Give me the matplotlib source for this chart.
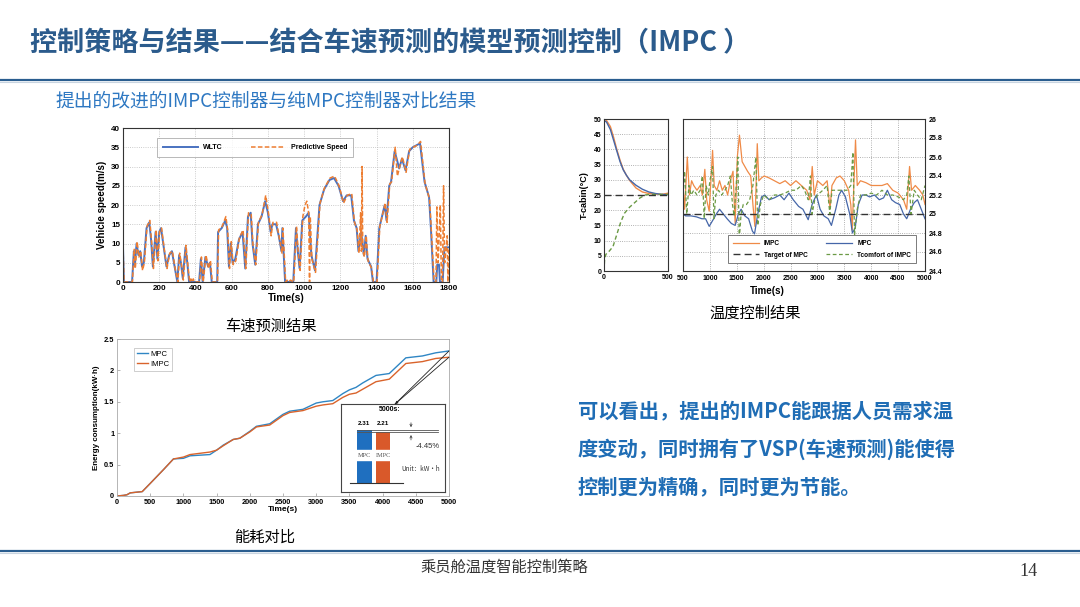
import numpy as np
import matplotlib
matplotlib.use("Agg")
import matplotlib.pyplot as plt
from matplotlib.lines import Line2D
from matplotlib.patches import ConnectionPatch, Rectangle

plt.rcParams['font.family'] = ['Liberation Sans', 'Noto Sans CJK SC', 'DejaVu Sans']
CJK = ['Noto Sans CJK SC', 'DejaVu Sans']

# ---- speed prediction (WLTC vs predictive), (t [s], v [m/s]) ----
WLTC = [(0, 9), (5, 0), (50, 0), (60, 8), (65, 4), (75, 10), (85, 7), (95, 8), (105, 4), (115, 5),
        (130, 14), (145, 15.5), (155, 11), (165, 4), (180, 13), (190, 6), (200, 13), (210, 14),
        (225, 9), (240, 4), (255, 7), (270, 8), (285, 4), (300, 0), (310, 7), (320, 5), (330, 1),
        (345, 9), (355, 5), (365, 0), (420, 0), (430, 6), (440, 0), (455, 6.5), (470, 4), (480, 5),
        (490, 0), (520, 0), (525, 13), (545, 14), (565, 16), (575, 14), (585, 4), (595, 10),
        (605, 5), (620, 6), (640, 11), (660, 13), (675, 3.5), (690, 17), (705, 18), (715, 10),
        (730, 4.5), (745, 15), (765, 17), (785, 21), (800, 18), (815, 13), (825, 15), (845, 15),
        (860, 12), (875, 8), (880, 14), (895, 0), (940, 0), (955, 14), (965, 8), (975, 3.5),
        (990, 16), (1010, 17), (1025, 18), (1040, 7), (1060, 3), (1085, 20), (1110, 24),
        (1140, 26.5), (1165, 27), (1190, 25), (1215, 21), (1235, 22.5), (1260, 22.5), (1275, 16),
        (1290, 14), (1300, 8), (1315, 13), (1330, 7), (1340, 12), (1350, 6), (1370, 4), (1380, 0),
        (1400, 0), (1415, 14), (1445, 20), (1455, 16), (1470, 25), (1480, 26), (1500, 34),
        (1525, 29.5), (1540, 32), (1560, 29), (1580, 34), (1600, 35), (1620, 35.5), (1640, 36),
        (1665, 26), (1690, 22), (1700, 14), (1715, 0), (1730, 0), (1735, 4.5), (1745, 4.5),
        (1750, 0), (1765, 0), (1775, 9), (1800, 9)]
PRED = [(0, 9), (6, 0), (52, 0), (62, 8.5), (68, 3.5), (78, 10.5), (88, 6.5), (98, 8), (108, 3),
        (118, 5), (133, 14.5), (148, 16), (158, 10.5), (168, 3.5), (183, 13.5), (193, 5.5),
        (203, 13.5), (213, 14), (228, 8.5), (243, 3.5), (258, 7.5), (273, 8), (288, 3.5), (303, 0),
        (313, 7.5), (323, 4.5), (333, 0.5), (348, 9.5), (358, 4.5), (368, 0), (375, 0.8), (380, 0),
        (388, 0.8), (395, 0), (423, 0), (433, 6.5), (443, 0), (458, 7), (473, 3.5), (483, 5.5),
        (493, 0), (522, 0), (528, 13.5), (548, 14.5), (568, 17), (578, 13.5), (588, 3.5),
        (598, 10.5), (608, 4.5), (623, 5.5), (643, 11.5), (663, 13.5), (678, 3.5), (693, 18),
        (708, 17.5), (718, 9.5), (733, 4.5), (748, 15.5), (768, 17.5), (788, 22.5), (803, 18),
        (818, 12), (828, 15.5), (848, 15.5), (863, 11.5), (878, 7.5), (883, 14), (898, 0),
        (905, 0.5), (915, 0), (925, 0.5), (943, 0), (958, 14.5), (968, 7.5), (978, 3), (993, 17),
        (1005, 20), (1015, 21), (1025, 18), (1030, 0), (1034, 17), (1043, 6), (1063, 2.5),
        (1088, 20.5), (1113, 24.5), (1143, 27), (1168, 27.5), (1193, 25), (1218, 20.5),
        (1238, 22.5), (1263, 23), (1278, 15.5), (1293, 13.5), (1303, 7.5), (1312, 18), (1316, 8),
        (1320, 30), (1324, 8), (1333, 6.5), (1343, 12), (1353, 5.5), (1373, 3.5), (1383, 0),
        (1403, 0), (1418, 14.5), (1448, 20.5), (1458, 15.5), (1473, 25.5), (1483, 26), (1503, 35),
        (1515, 27.5), (1528, 30), (1543, 32.5), (1563, 28.5), (1583, 34.5), (1603, 35),
        (1623, 35.5), (1643, 36.5), (1668, 25.5), (1693, 21.5), (1703, 13), (1718, 0), (1728, 0),
        (1733, 19.5), (1740, 5), (1748, 15), (1752, 20), (1758, 0), (1764, 0), (1770, 25),
        (1776, 5), (1785, 9), (1790, 12), (1794, 0), (1800, 9)]

# ---- cabin temperature, first 500 s ----
IMPC_L_T = [0, 20, 50, 75, 100, 125, 150, 175, 200, 250, 300, 350, 400, 450, 500]
IMPC_L_V = [50, 49.5, 47.5, 44, 40, 36.5, 33.5, 31.5, 29.8, 27.3, 26.0, 25.5, 25.3, 25.2, 25.6]
MPC_L_V = [49.5, 49, 46.5, 43, 39.5, 36, 33.3, 31.5, 30, 28.2, 26.9, 26.0, 25.5, 25.2, 25.1]
COMF_L_T = [0, 5, 15, 40, 70, 100, 130, 160, 200, 240, 280, 320, 360, 500]
COMF_L_V = [0, 4, 5.5, 6.5, 8, 12, 16, 19, 21, 22.5, 24, 25, 25.2, 25.2]
TARGET = 25.0

# ---- cabin temperature, 500-5000 s ----
IMPC_R = [(500, 25.3), (530, 25.05), (580, 25.6), (620, 25.2), (660, 25.35), (700, 25.3),
          (760, 25.25), (820, 25.3), (860, 25.2), (906, 25.47), (940, 25.15), (987, 25.03),
          (1050, 25.67), (1080, 25.3), (1130, 25.25), (1180, 25.35), (1230, 25.25), (1280, 25.3),
          (1330, 25.2), (1380, 25.35), (1430, 25.45), (1470, 24.9), (1510, 25.6), (1550, 25.83),
          (1600, 25.55), (1650, 25.5), (1700, 25.45), (1760, 25.4), (1800, 25.1), (1837, 24.87),
          (1881, 25.74), (1910, 25.35), (1960, 25.38), (2010, 25.4), (2100, 25.38), (2200, 25.35),
          (2300, 25.32), (2400, 25.35), (2500, 25.3), (2600, 25.35), (2700, 25.3), (2800, 25.25),
          (2860, 25.15), (2903, 25.5), (2940, 25.2), (3000, 25.35), (3100, 25.3), (3180, 25.35),
          (3234, 25.06), (3270, 25.3), (3350, 25.38), (3420, 25.4), (3500, 25.35), (3580, 25.25),
          (3620, 25.1), (3646, 24.83), (3708, 25.78), (3740, 25.3), (3800, 25.35), (3900, 25.33),
          (4000, 25.3), (4100, 25.3), (4200, 25.3), (4300, 25.32), (4400, 25.25), (4500, 25.22),
          (4600, 25.15), (4660, 25.05), (4713, 25.5), (4750, 25.25), (4820, 25.3), (4900, 25.25),
          (4960, 25.2), (5000, 25.1)]
MPC_R = [(500, 25.0), (550, 24.98), (650, 24.98), (750, 24.97), (850, 24.95), (920, 24.95),
         (987, 24.87), (1050, 24.93), (1120, 25.0), (1180, 25.05), (1250, 25.0), (1320, 24.95),
         (1400, 24.9), (1470, 24.88), (1530, 25.0), (1580, 25.05), (1650, 24.98), (1720, 24.95),
         (1790, 24.82), (1830, 24.79), (1890, 25.0), (1960, 25.18), (2020, 25.2), (2100, 25.15),
         (2200, 25.17), (2300, 25.2), (2380, 25.15), (2470, 25.22), (2550, 25.15), (2650, 25.08),
         (2730, 25.05), (2828, 24.94), (2900, 25.1), (2980, 25.2), (3050, 25.05), (3120, 24.98),
         (3200, 24.95), (3260, 24.88), (3340, 25.05), (3400, 25.2), (3450, 25.25), (3520, 25.18),
         (3600, 25.0), (3650, 24.8), (3700, 24.85), (3760, 25.1), (3830, 25.2), (3900, 25.2),
         (3970, 25.18), (4060, 25.2), (4150, 25.15), (4230, 25.17), (4300, 25.25), (4380, 25.15),
         (4450, 25.12), (4530, 25.1), (4600, 25.0), (4660, 24.95), (4730, 25.05), (4800, 25.12),
         (4860, 25.15), (4930, 25.05), (5000, 24.95)]
COMF_R = [(500, 25.2), (530, 25.45), (570, 25.0), (610, 25.3), (650, 25.2), (700, 25.25),
          (760, 25.2), (820, 25.25), (860, 25.4), (895, 24.95), (930, 25.3), (970, 25.2),
          (1000, 25.35), (1050, 25.5), (1075, 24.95), (1110, 25.2), (1160, 25.25), (1220, 25.2),
          (1280, 25.25), (1330, 25.3), (1380, 25.4), (1420, 25.1), (1450, 24.98), (1490, 25.3),
          (1520, 25.6), (1545, 24.72), (1580, 25.0), (1620, 25.1), (1680, 25.1), (1740, 25.15),
          (1800, 25.3), (1855, 25.6), (1890, 24.88), (1940, 25.1), (2000, 25.2), (2100, 25.15),
          (2200, 25.2), (2300, 25.2), (2400, 25.22), (2500, 25.25), (2600, 25.25), (2700, 25.3),
          (2760, 25.25), (2830, 25.15), (2870, 25.4), (2900, 25.0), (2950, 25.15), (3000, 25.2),
          (3100, 25.25), (3180, 25.3), (3230, 25.0), (3270, 25.25), (3350, 25.25), (3450, 25.25),
          (3550, 25.25), (3620, 25.3), (3660, 25.65), (3690, 24.78), (3740, 25.05), (3800, 25.2),
          (3900, 25.2), (4000, 25.22), (4100, 25.2), (4200, 25.25), (4300, 25.2), (4400, 25.2),
          (4500, 25.18), (4600, 25.15), (4660, 25.2), (4700, 25.4), (4740, 25.0), (4800, 25.25),
          (4860, 25.2), (4930, 25.15), (5000, 25.3)]

# ---- energy consumption (kW·h) ----
E_T = [0, 100, 150, 200, 380, 500, 700, 850, 1000, 1100, 1400, 1500, 1600, 1750, 1850, 2000,
       2100, 2300, 2500, 2600, 2800, 3000, 3100, 3250, 3400, 3500, 3600, 3700, 3900, 4100,
       4350, 4600, 4800, 5000]
MPC_E = [0, 0.01, 0.02, 0.05, 0.07, 0.2, 0.42, 0.59, 0.6, 0.64, 0.66, 0.73, 0.81, 0.9, 0.92,
         1.03, 1.11, 1.15, 1.3, 1.35, 1.38, 1.48, 1.5, 1.52, 1.63, 1.69, 1.73, 1.8, 1.92, 1.95,
         2.2, 2.23, 2.28, 2.31]
IMPC_E = [0, 0.01, 0.02, 0.05, 0.07, 0.2, 0.42, 0.59, 0.62, 0.66, 0.7, 0.73, 0.8, 0.9, 0.92,
          1.02, 1.1, 1.13, 1.28, 1.33, 1.36, 1.43, 1.45, 1.47, 1.57, 1.62, 1.64, 1.7, 1.82, 1.86,
          2.11, 2.14, 2.19, 2.21]
BAR_NAMES = ['MPC', 'IMPC']
BAR_VALS = [2.31, 2.21]
SAVING = '-4.45%'

W, H = 1080, 607
fig = plt.figure(figsize=(W / 100, H / 100), dpi=100)


def box(l, t, r, b):
    # pixel box -> figure fraction rect
    return [l / W, 1 - b / H, (r - l) / W, (b - t) / H]


def px(x, y):
    return x / W, 1 - y / H


BLUE_LINE = '#2a5d8f'
fig.add_artist(Line2D([0, 1], [1 - 80 / H] * 2, color=BLUE_LINE, lw=1.6))
fig.add_artist(Line2D([0, 1], [1 - 82 / H] * 2, color='#c8d4e0', lw=0.8))
fig.add_artist(Line2D([0, 1], [1 - 551 / H] * 2, color=BLUE_LINE, lw=1.6))
fig.add_artist(Line2D([0, 1], [1 - 553 / H] * 2, color='#c8d4e0', lw=0.8))

fig.text(*px(30, 43), '控制策略与结果——结合车速预测的模型预测控制（IMPC ）', family=CJK,
         fontsize=19.5, fontweight='bold', color='#2b5b8c', va='center')
fig.text(*px(55, 101), '提出的改进的IMPC控制器与纯MPC控制器对比结果', family=CJK,
         fontsize=13.5, color='#2e78c2', va='center')
for i, line in enumerate(['可以看出，提出的IMPC能跟据人员需求温',
                          '度变动，同时拥有了VSP(车速预测)能使得',
                          '控制更为精确，同时更为节能。']):
    fig.text(*px(578, 412 + 37.5 * i), line, family=CJK, fontsize=14.6,
             fontweight='bold', color='#1f6db5', va='center')
fig.text(*px(504, 567), '乘员舱温度智能控制策略', family=CJK, fontsize=11,
         color='#333333', ha='center', va='center')
fig.text(*px(1028, 571), '14', family='Liberation Serif', fontsize=13,
         color='#333333', ha='center', va='center')
for (x, y, s) in [(271, 326, '车速预测结果'), (755, 313, '温度控制结果'), (265, 537, '能耗对比')]:
    fig.text(*px(x, y), s, family=CJK, fontsize=11, fontweight='medium',
             ha='center', va='center')

# ---------------- speed chart ----------------
ax = fig.add_axes(box(123, 128, 449, 282))
wt, wv = zip(*WLTC)
pt, pv = zip(*PRED)
ax.plot(wt, wv, color='#4a72c0', lw=1.4, label='WLTC')
ax.plot(pt, pv, color='#ed7d31', lw=1.1, ls=(0, (3, 1.5)), label='Predictive Speed')
ax.set_xlim(0, 1800)
ax.set_ylim(0, 40)
ax.set_xticks(range(0, 1801, 200))
ax.set_yticks(range(0, 41, 5))
ax.grid(color='#bbbbbb', ls=':', lw=0.6)
ax.tick_params(length=0, pad=2, labelsize=5.8)
for lab in ax.get_xticklabels() + ax.get_yticklabels():
    lab.set_fontweight('bold')
ax.set_xlabel('Time(s)', fontsize=7.5, fontweight='bold', labelpad=1)
ax.set_ylabel('Vehicle speed(m/s)', fontsize=7, fontweight='bold', labelpad=3)
for s in ax.spines.values():
    s.set_color('#333333')
    s.set_linewidth(0.8)
leg = ax.legend(ncol=2, loc='upper left', bbox_to_anchor=(0.095, 0.955),
                prop={'weight': 'bold', 'size': 5}, frameon=True, fancybox=False,
                handlelength=5, columnspacing=4, borderpad=0.8)
leg.get_frame().set_edgecolor('#999999')
leg.get_frame().set_linewidth(0.6)

# ---------------- temperature chart ----------------
C_IMPC, C_MPC, C_COMF = '#ef8a47', '#4566a8', '#6b9a45'
axl = fig.add_axes(box(604, 119, 668, 271))
axl.plot(IMPC_L_T, IMPC_L_V, color=C_IMPC, lw=1.0)
axl.plot(IMPC_L_T, MPC_L_V, color=C_MPC, lw=1.0)
axl.plot(COMF_L_T, COMF_L_V, color=C_COMF, lw=1.0, ls=(0, (3, 2)))
axl.axhline(TARGET, color='#333333', lw=1.0, ls=(0, (5, 3)))
axl.set_xlim(0, 500)
axl.set_ylim(0, 50)
axl.set_xticks([0, 500])
axl.set_yticks(range(0, 51, 5))
axl.grid(axis='y', color='#999999', ls=':', lw=0.6)
axl.tick_params(length=0, pad=2, labelsize=5)
for lab in axl.get_xticklabels() + axl.get_yticklabels():
    lab.set_fontweight('bold')
axl.set_ylabel('T-cabin(°C)', fontsize=6.5, fontweight='bold', labelpad=3)

axr = fig.add_axes(box(683, 119, 925, 271))
for data, c, lab in [(IMPC_R, C_IMPC, 'IMPC'), (MPC_R, C_MPC, 'MPC')]:
    t, v = zip(*data)
    axr.plot(t, v, color=c, lw=0.9, label=lab)
axr.axhline(TARGET, color='#333333', lw=1.0, ls=(0, (5, 3)), label='Target of MPC')
t, v = zip(*COMF_R)
axr.plot(t, v, color=C_COMF, lw=0.9, ls=(0, (3, 2)), label='Tcomfort of IMPC')
axr.set_xlim(500, 5000)
axr.set_ylim(24.4, 26)
axr.set_xticks(range(500, 5001, 500))
yt = np.round(np.arange(24.4, 26.01, 0.2), 1)
axr.set_yticks(yt)
axr.set_yticklabels([f'{v:g}' for v in yt])
axr.yaxis.tick_right()
axr.grid(color='#999999', ls=':', lw=0.6)
axr.tick_params(length=0, pad=3, labelsize=5)
for lab in axr.get_xticklabels() + axr.get_yticklabels():
    lab.set_fontweight('bold')
for a in (axl, axr):
    for s in a.spines.values():
        s.set_color('#333333')
        s.set_linewidth(0.8)
h, l = axr.get_legend_handles_labels()
order = [0, 2, 1, 3]
leg = axr.legend([h[i] for i in order], [l[i] for i in order], ncol=2, loc='lower right',
                 bbox_to_anchor=(0.975, 0.03), prop={'weight': 'bold', 'size': 4.7},
                 frameon=True, fancybox=False, handlelength=4, columnspacing=2.8,
                 borderpad=0.7, labelspacing=0.7)
leg.get_frame().set_edgecolor('#666666')
leg.get_frame().set_linewidth(0.6)
leg.get_frame().set_alpha(1)
fig.text(*px(767, 291), 'Time(s)', fontsize=7, fontweight='bold', ha='center', va='center')

# ---------------- energy chart ----------------
C_E_MPC, C_E_IMPC = '#2f86c4', '#d9632b'
axe = fig.add_axes(box(117, 339, 449, 496))
axe.plot(E_T, MPC_E, color=C_E_MPC, lw=1.0, label='MPC')
axe.plot(E_T, IMPC_E, color=C_E_IMPC, lw=1.0, label='IMPC')
axe.set_xlim(0, 5000)
axe.set_ylim(0, 2.5)
axe.set_xticks(range(0, 5001, 500))
axe.set_yticks([0, 0.5, 1, 1.5, 2, 2.5])
axe.set_yticklabels(['0', '0.5', '1', '1.5', '2', '2.5'])
axe.tick_params(direction='in', length=2, width=0.5, color='#999999', pad=2, labelsize=5.3)
for lab in axe.get_xticklabels() + axe.get_yticklabels():
    lab.set_fontweight('bold')
for s in axe.spines.values():
    s.set_color('#aaaaaa')
    s.set_linewidth(0.6)
axe.set_xlabel('Time(s)', fontsize=6, fontweight='bold', labelpad=0)
axe.set_ylabel('Energy consumption(kW·h)', fontsize=5.8, fontweight='bold', labelpad=3)
leg = axe.legend(loc='upper left', bbox_to_anchor=(0.04, 0.97), fontsize=5.5, frameon=True,
                 fancybox=False, handlelength=1.4, handletextpad=0.3, borderpad=0.4,
                 labelspacing=0.3)
leg.get_frame().set_edgecolor('#aaaaaa')
leg.get_frame().set_linewidth(0.5)

# inset with the 5000 s comparison
axi = fig.add_axes(box(341, 404, 445, 492))
axi.set_xlim(0, 1)
axi.set_ylim(-0.41, 3.45)
axi.set_xticks([])
axi.set_yticks([])
for s in axi.spines.values():
    s.set_color('#444444')
    s.set_linewidth(0.8)
xs = [0.223, 0.404]
axi.bar(xs, BAR_VALS, width=0.142, color=['#1f6fbf', '#d9592a'])
axi.add_patch(Rectangle((0.1, 1.0), 0.45, 0.42, color='white', zorder=3))
for x, n, v in zip(xs, BAR_NAMES, BAR_VALS):
    axi.text(x, 1.21, n, ha='center', va='center', fontsize=4.5, color='#555555',
             family='Liberation Serif', zorder=4)
    axi.text(x, 2.5, f'{v:.2f}', ha='center', va='bottom', fontsize=4.5, fontweight='bold')
axi.plot([0.09, 0.6], [0, 0], color='#333333', lw=0.8)
for v in BAR_VALS:
    axi.plot([0.15, 0.935], [v, v], color='#555555', lw=0.6)
axi.annotate('', xy=(0.673, BAR_VALS[0]), xytext=(0.673, 2.75),
             arrowprops=dict(arrowstyle='->', lw=0.5, color='#333333', mutation_scale=4))
axi.annotate('', xy=(0.673, BAR_VALS[1]), xytext=(0.673, 1.75),
             arrowprops=dict(arrowstyle='->', lw=0.5, color='#333333', mutation_scale=4))
axi.text(0.72, 1.6, SAVING, fontsize=5.5, va='center', ha='left', color='#333333')
axi.text(0.955, 0.62, 'Unit：kW•h', fontsize=4.6, va='center', ha='right', color='#333333',
         family=CJK)
axi.text(0.47, 3.2, '5000s:', fontsize=5, fontweight='bold', ha='center', va='center')
for v in BAR_VALS:
    con = ConnectionPatch(xyA=(0.52, 1.0), coordsA=axi.transAxes, xyB=(5000, v),
                          coordsB=axe.transData, color='#222222', lw=0.6)
    fig.add_artist(con)
axi.annotate('', xy=(0.52, 1.0), xycoords='axes fraction', xytext=(0.56, 1.04),
             arrowprops=dict(arrowstyle='-|>', lw=0.5, color='#222222', mutation_scale=4))

fig.savefig('out.png', dpi=100, facecolor='white')
